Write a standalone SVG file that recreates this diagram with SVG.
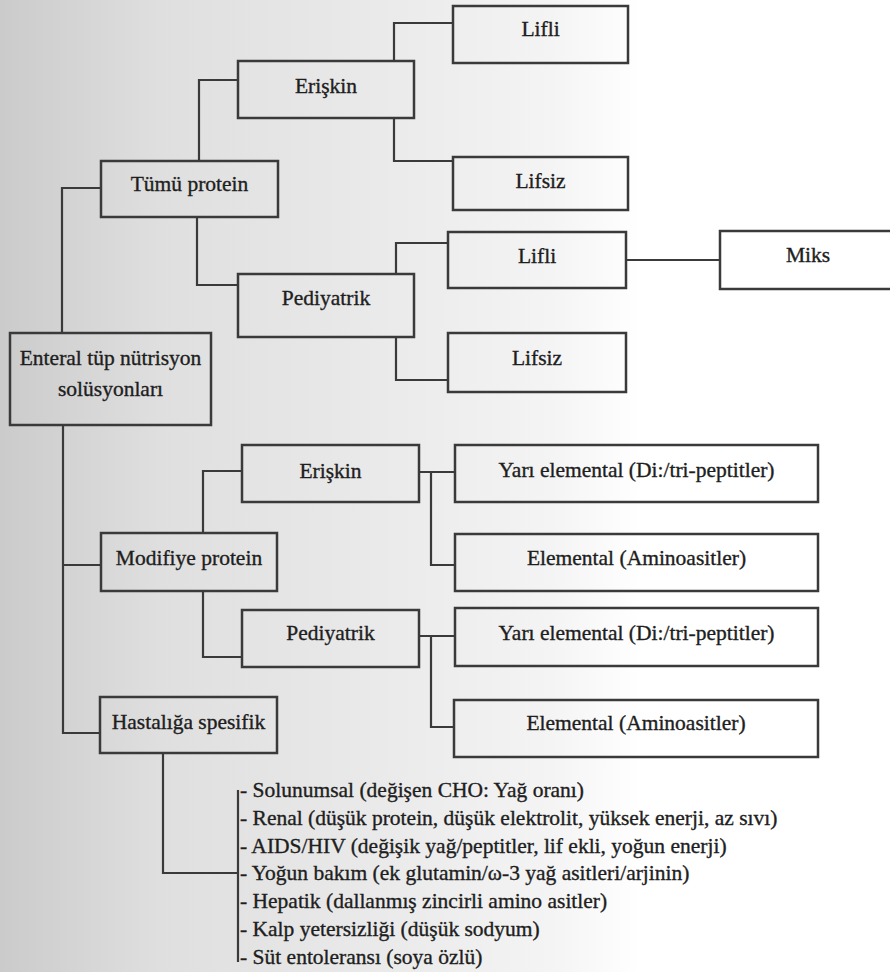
<svg xmlns="http://www.w3.org/2000/svg" width="890" height="972" viewBox="0 0 890 972">
<defs>
<linearGradient id="bg" x1="0" y1="0" x2="890" y2="0" gradientUnits="userSpaceOnUse">
<stop offset="0" stop-color="#cbcbcb"/>
<stop offset="0.18" stop-color="#dfdfdf"/>
<stop offset="0.45" stop-color="#ebebeb"/>
<stop offset="0.62" stop-color="#f4f4f4"/>
<stop offset="0.72" stop-color="#ffffff"/>
<stop offset="1" stop-color="#ffffff"/>
</linearGradient>
</defs>
<style>
.box{fill:none;stroke:#3a3a3a;stroke-width:2.5}
.con{fill:none;stroke:#3a3a3a;stroke-width:2.2}
text{font-family:"Liberation Serif","Times New Roman",serif;font-size:21.5px;fill:#1e1e1e;stroke:#1e1e1e;stroke-width:0.35}
.c{text-anchor:middle}
</style>
<rect width="890" height="972" fill="url(#bg)"/>
<g id="connectors" class="con">
<polyline points="62,333 62,188 101,188"/>
<polyline points="63,425 63,733 100,733"/>
<line x1="63" y1="565" x2="101" y2="565"/>
<polyline points="199,161 199,80 238,80"/>
<polyline points="197,217 197,285 238,285"/>
<polyline points="394,61 394,23 453,23"/>
<polyline points="394,118 394,161 453,161"/>
<polyline points="396,274 396,243 448,243"/>
<polyline points="396,337 396,380 448,380"/>
<line x1="626" y1="260" x2="720" y2="260"/>
<polyline points="203,533 203,471 242,471"/>
<polyline points="203,591 203,657 242,657"/>
<line x1="419" y1="472" x2="455" y2="472"/>
<polyline points="431,472 431,565 455,565"/>
<line x1="419" y1="636" x2="455" y2="636"/>
<polyline points="431,636 431,727 455,727"/>
<polyline points="163,753 163,873 238,873"/>
<line x1="238" y1="790" x2="238" y2="962"/>
</g>
<g id="n-enteral"><rect class="box" x="10" y="333" width="201" height="92"/><text class="c" x="110.5" y="365">Enteral tüp nütrisyon</text><text class="c" x="110.5" y="396">solüsyonları</text></g>
<g id="n-tumu"><rect class="box" x="101" y="161" width="177" height="56"/><text class="c" x="189.5" y="191">Tümü protein</text></g>
<g id="n-eriskin1"><rect class="box" x="238" y="61" width="176" height="57"/><text class="c" x="326" y="93">Erişkin</text></g>
<g id="n-pediyatrik1"><rect class="box" x="238" y="274" width="176" height="63"/><text class="c" x="326" y="305">Pediyatrik</text></g>
<g id="n-lifli1"><rect class="box" x="453" y="6" width="175" height="57"/><text class="c" x="540.5" y="36">Lifli</text></g>
<g id="n-lifsiz1"><rect class="box" x="453" y="157" width="175" height="53"/><text class="c" x="540.5" y="188">Lifsiz</text></g>
<g id="n-lifli2"><rect class="box" x="448" y="232" width="178" height="56"/><text class="c" x="537" y="263">Lifli</text></g>
<g id="n-lifsiz2"><rect class="box" x="448" y="333" width="178" height="59"/><text class="c" x="537" y="365">Lifsiz</text></g>
<g id="n-miks"><rect class="box" x="720" y="231" width="178" height="58"/><text class="c" x="808" y="262">Miks</text></g>
<g id="n-modifiye"><rect class="box" x="101" y="533" width="176" height="58"/><text class="c" x="189" y="565">Modifiye protein</text></g>
<g id="n-eriskin2"><rect class="box" x="242" y="445" width="177" height="57"/><text class="c" x="330.5" y="478">Erişkin</text></g>
<g id="n-pediyatrik2"><rect class="box" x="242" y="610" width="177" height="57"/><text class="c" x="330.5" y="640">Pediyatrik</text></g>
<g id="n-hastaliga"><rect class="box" x="100" y="697" width="177" height="56"/><text class="c" x="188.5" y="729">Hastalığa spesifik</text></g>
<g id="n-yari1"><rect class="box" x="455" y="445" width="363" height="57"/><text class="c" x="636.5" y="477">Yarı elemental (Di:/tri-peptitler)</text></g>
<g id="n-elemental1"><rect class="box" x="455" y="534" width="363" height="57"/><text class="c" x="636.5" y="565">Elemental (Aminoasitler)</text></g>
<g id="n-yari2"><rect class="box" x="455" y="608" width="363" height="58"/><text class="c" x="636.5" y="640">Yarı elemental (Di:/tri-peptitler)</text></g>
<g id="n-elemental2"><rect class="box" x="454" y="700" width="364" height="57"/><text class="c" x="636" y="730">Elemental (Aminoasitler)</text></g>
<g id="n-list">
<text x="240" y="797">- Solunumsal (değişen CHO: Yağ oranı)</text>
<text x="240" y="824.8">- Renal (düşük protein, düşük elektrolit, yüksek enerji, az sıvı)</text>
<text x="240" y="852.6">- AIDS/HIV (değişik yağ/peptitler, lif ekli, yoğun enerji)</text>
<text x="240" y="880.4">- Yoğun bakım (ek glutamin/ω-3 yağ asitleri/arjinin)</text>
<text x="240" y="908.2">- Hepatik (dallanmış zincirli amino asitler)</text>
<text x="240" y="936">- Kalp yetersizliği (düşük sodyum)</text>
<text x="240" y="963.8">- Süt entoleransı (soya özlü)</text>
</g>
</svg>
